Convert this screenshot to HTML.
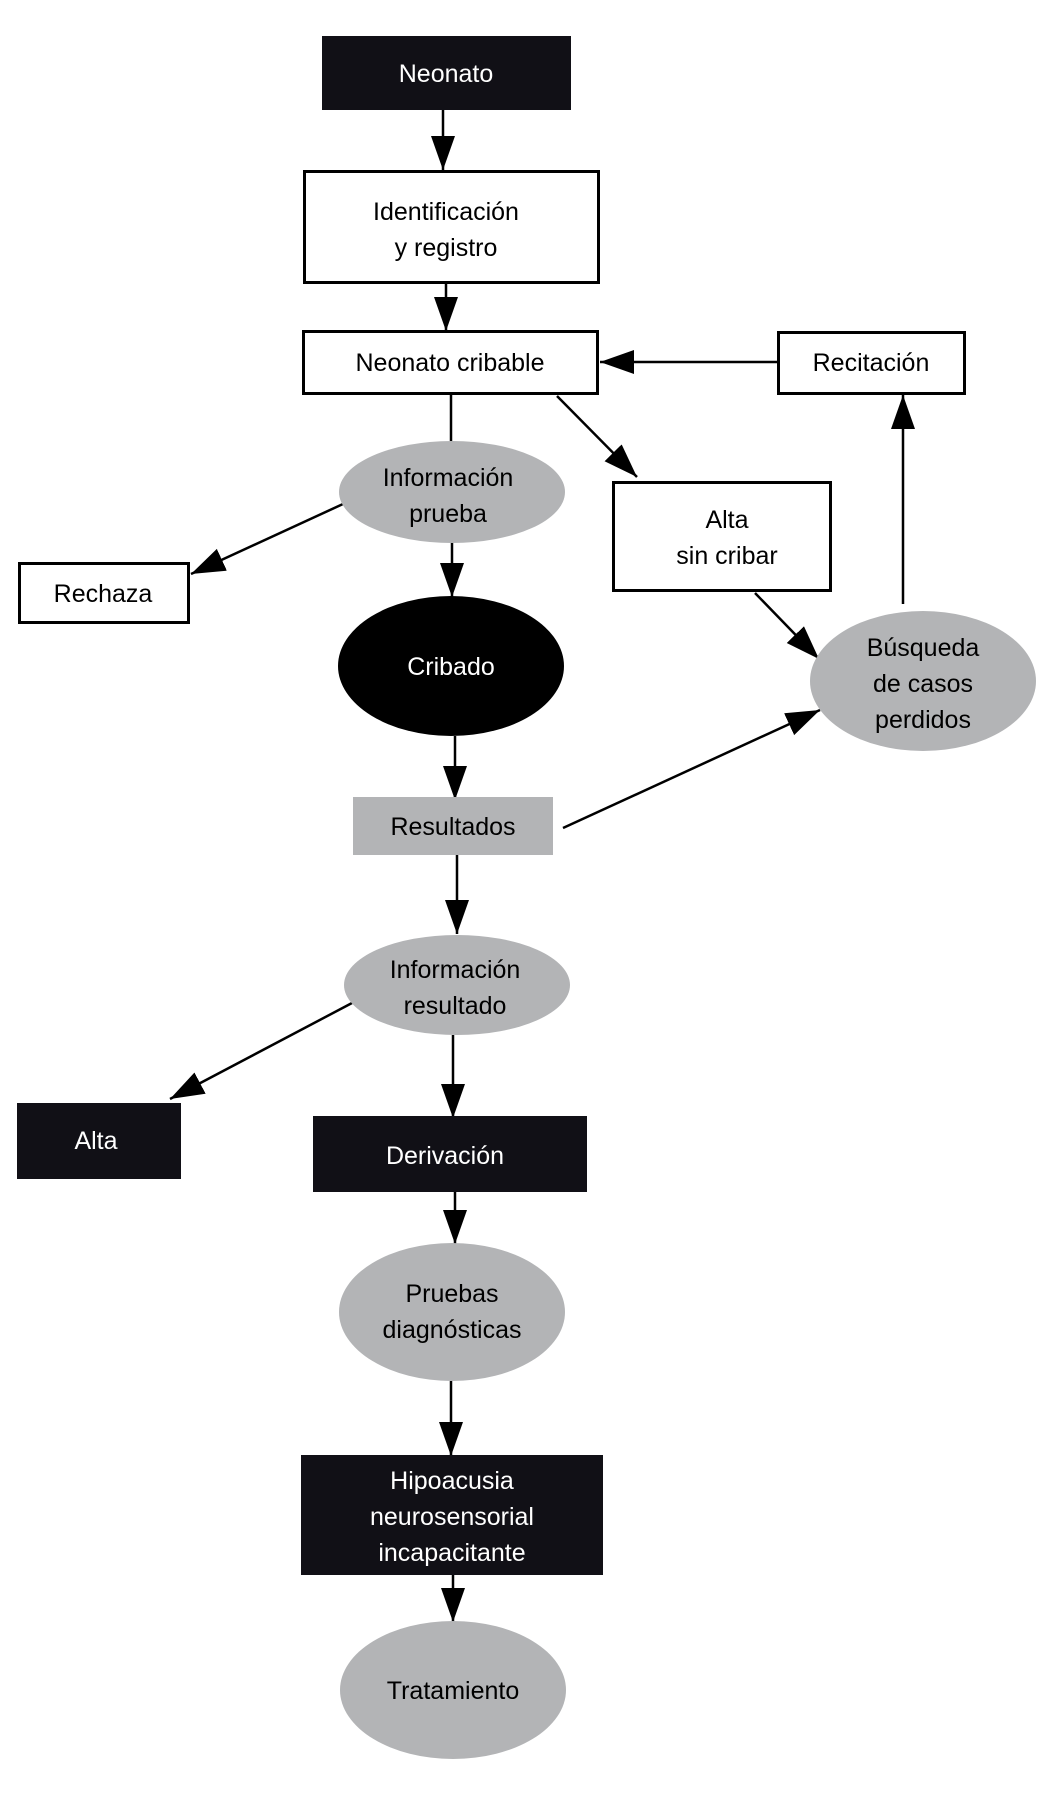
<!DOCTYPE html>
<html><head><meta charset="utf-8"><style>
html,body{margin:0;padding:0;background:#fff;}
svg{display:block;}
text{font-family:"Liberation Sans",sans-serif;font-size:25px;text-anchor:middle;}
</style></head><body>
<svg width="1045" height="1800" viewBox="0 0 1045 1800" xmlns="http://www.w3.org/2000/svg">
<defs>
<marker id="a" markerUnits="userSpaceOnUse" markerWidth="36" markerHeight="26" refX="34" refY="12" orient="auto">
<path d="M0,0 L34,12 L0,24 Z" fill="#000"/>
</marker>
</defs>
<g stroke="#000" stroke-width="2.5" fill="none">
<line x1="443" y1="110" x2="443" y2="170" marker-end="url(#a)"/>
<line x1="446" y1="283" x2="446" y2="331" marker-end="url(#a)"/>
<line x1="777" y1="362" x2="600" y2="362" marker-end="url(#a)"/>
<line x1="451" y1="394" x2="451" y2="441"/>
<line x1="557" y1="396" x2="637" y2="477" marker-end="url(#a)"/>
<line x1="343" y1="504" x2="191" y2="574" marker-end="url(#a)"/>
<line x1="452" y1="542" x2="452" y2="597" marker-end="url(#a)"/>
<line x1="455" y1="736" x2="455" y2="800" marker-end="url(#a)"/>
<line x1="563" y1="828" x2="820" y2="710" marker-end="url(#a)"/>
<line x1="755" y1="593" x2="819" y2="659" marker-end="url(#a)"/>
<line x1="903" y1="604" x2="903" y2="395" marker-end="url(#a)"/>
<line x1="457" y1="855" x2="457" y2="934" marker-end="url(#a)"/>
<line x1="352" y1="1003" x2="170" y2="1099" marker-end="url(#a)"/>
<line x1="453" y1="1035" x2="453" y2="1118" marker-end="url(#a)"/>
<line x1="455" y1="1192" x2="455" y2="1244" marker-end="url(#a)"/>
<line x1="451" y1="1381" x2="451" y2="1456" marker-end="url(#a)"/>
<line x1="453" y1="1575" x2="453" y2="1622" marker-end="url(#a)"/>
</g>
<rect x="322" y="36" width="249" height="74" fill="#111016"/>
<text x="446" y="82" fill="#fff">Neonato</text>

<rect x="304.5" y="171.5" width="294" height="111" fill="#fff" stroke="#000" stroke-width="3"/>
<text x="446" y="220">Identificación</text>
<text x="446" y="256">y registro</text>

<rect x="303.5" y="331.5" width="294" height="62" fill="#fff" stroke="#000" stroke-width="3"/>
<text x="450" y="371">Neonato cribable</text>

<rect x="778.5" y="332.5" width="186" height="61" fill="#fff" stroke="#000" stroke-width="3"/>
<text x="871" y="371">Recitación</text>

<ellipse cx="452" cy="492" rx="113" ry="51" fill="#b3b4b6"/>
<text x="448" y="486">Información</text>
<text x="448" y="522">prueba</text>

<rect x="613.5" y="482.5" width="217" height="108" fill="#fff" stroke="#000" stroke-width="3"/>
<text x="727" y="528">Alta</text>
<text x="727" y="564">sin cribar</text>

<rect x="19.5" y="563.5" width="169" height="59" fill="#fff" stroke="#000" stroke-width="3"/>
<text x="103" y="602">Rechaza</text>

<ellipse cx="451" cy="666" rx="113" ry="70" fill="#000"/>
<text x="451" y="675" fill="#fff">Cribado</text>

<ellipse cx="923" cy="681" rx="113" ry="70" fill="#b3b4b6"/>
<text x="923" y="656">Búsqueda</text>
<text x="923" y="692">de casos</text>
<text x="923" y="728">perdidos</text>

<rect x="353" y="797" width="200" height="58" fill="#b3b4b6"/>
<text x="453" y="835">Resultados</text>

<ellipse cx="457" cy="985" rx="113" ry="50" fill="#b3b4b6"/>
<text x="455" y="978">Información</text>
<text x="455" y="1014">resultado</text>

<rect x="17" y="1103" width="164" height="76" fill="#111016"/>
<text x="96" y="1149" fill="#fff">Alta</text>

<rect x="313" y="1116" width="274" height="76" fill="#111016"/>
<text x="445" y="1164" fill="#fff">Derivación</text>

<ellipse cx="452" cy="1312" rx="113" ry="69" fill="#b3b4b6"/>
<text x="452" y="1302">Pruebas</text>
<text x="452" y="1338">diagnósticas</text>

<rect x="301" y="1455" width="302" height="120" fill="#111016"/>
<text x="452" y="1489" fill="#fff">Hipoacusia</text>
<text x="452" y="1525" fill="#fff">neurosensorial</text>
<text x="452" y="1561" fill="#fff">incapacitante</text>

<ellipse cx="453" cy="1690" rx="113" ry="69" fill="#b3b4b6"/>
<text x="453" y="1699">Tratamiento</text>
</svg>
</body></html>
